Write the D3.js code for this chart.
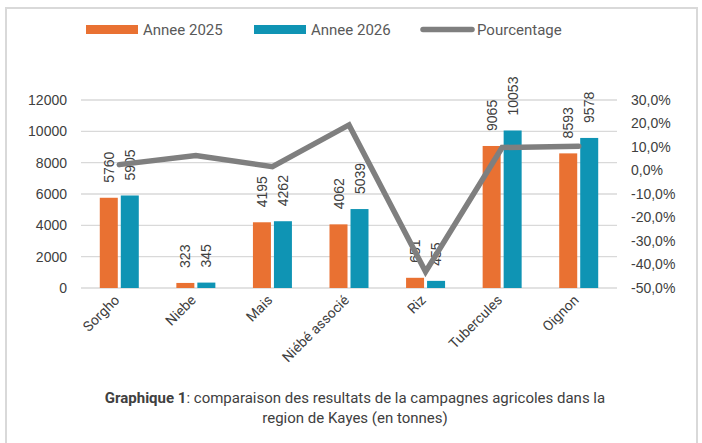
<!DOCTYPE html>
<html>
<head>
<meta charset="utf-8">
<script src="https://cdn.jsdelivr.net/npm/d3@7"></script>
<style>
  body { margin: 0; background: #fff; }
</style>
</head>
<body>
<div id="container"></div>
<script>
let w = 702;
let h = 443;

// data
let categories = ["Sorgho", "Niebe", "Mais", "Niébé associé", "Riz", "Tubercules", "Oignon"];
let annee2025 = [5760, 323, 4195, 4062, 651, 9065, 8593];
let annee2026 = [5905, 345, 4262, 5039, 455, 10053, 9578];
let pourcentage = [2.5, 6.4, 1.6, 19.4, -43.1, 9.8, 10.3];
let leftTicks = [0, 2000, 4000, 6000, 8000, 10000, 12000];
let rightTicks = [-50, -40, -30, -20, -10, 0, 10, 20, 30];

let orange = "#e97132";
let blue = "#0f94b4";
let grey = "#7f7f7f";
let textCol = "#404040";

let viz = d3.select("#container")
  .append("svg")
    .attr("width", w)
    .attr("height", h)
    .style("background-color", "white");

// outer border of the chart box
viz.append("rect")
  .attr("x", 6).attr("y", 8)
  .attr("width", 691).attr("height", 445)
  .attr("fill", "none")
  .attr("stroke", "#d9d9d9")
  .attr("stroke-width", 2);

let plotLeft = 81, plotRight = 617, plotTop = 100, plotBottom = 288;

let xScale = d3.scaleBand().domain(categories).range([plotLeft, plotRight]);
let yScale = d3.scaleLinear().domain([0, 12000]).range([plotBottom, plotTop]);
let pScale = d3.scaleLinear().domain([-50, 30]).range([plotBottom, plotTop]);

// gridlines
viz.append("g").selectAll("line").data(leftTicks).enter()
  .append("line")
    .attr("x1", plotLeft).attr("x2", plotRight)
    .attr("y1", d => yScale(d)).attr("y2", d => yScale(d))
    .attr("stroke", "#d9d9d9")
    .attr("stroke-width", 1.3);

// left axis
let yAxis = d3.axisLeft(yScale).tickValues(leftTicks).tickSize(0).tickPadding(14)
  .tickFormat(d3.format("d"));
let yAxisGroup = viz.append("g")
  .attr("transform", "translate(" + plotLeft + ",0)")
  .call(yAxis);
yAxisGroup.select(".domain").remove();
yAxisGroup.selectAll("text")
  .attr("fill", textCol)
  .style("font-family", "'Liberation Sans', Arial, sans-serif")
  .style("font-size", "14px");

// right axis
let fmt = d3.format(".1f");
let pAxis = d3.axisRight(pScale).tickValues(rightTicks).tickSize(0).tickPadding(14)
  .tickFormat(d => fmt(d).replace(".", ",").replace("−", "-") + "%");
let pAxisGroup = viz.append("g")
  .attr("transform", "translate(" + plotRight + ",0)")
  .call(pAxis);
pAxisGroup.select(".domain").remove();
pAxisGroup.selectAll("text")
  .attr("fill", textCol)
  .style("font-family", "'Liberation Sans', Arial, sans-serif")
  .style("font-size", "14px");

// bars
let barW = 18, gap = 3;
let groups = viz.selectAll(".datagroup").data(categories).enter()
  .append("g")
    .attr("class", "datagroup")
    .attr("transform", d => "translate(" + (xScale(d) + xScale.bandwidth() / 2) + ",0)");

groups.append("rect")
  .attr("x", -barW - gap / 2)
  .attr("y", (d, i) => yScale(annee2025[i]))
  .attr("width", barW)
  .attr("height", (d, i) => plotBottom - yScale(annee2025[i]))
  .attr("fill", orange);

groups.append("rect")
  .attr("x", gap / 2)
  .attr("y", (d, i) => yScale(annee2026[i]))
  .attr("width", barW)
  .attr("height", (d, i) => plotBottom - yScale(annee2026[i]))
  .attr("fill", blue);

// line
let line = d3.line()
  .x((d, i) => xScale(categories[i]) + xScale.bandwidth() / 2)
  .y(d => pScale(d));
viz.append("path")
  .datum(pourcentage)
  .attr("d", line)
  .attr("fill", "none")
  .attr("stroke", grey)
  .attr("stroke-width", 5.5)
  .attr("stroke-linejoin", "miter")
  .attr("stroke-linecap", "round");

// data labels, rotated
function addLabels(vals, dx) {
  groups.append("text")
    .text((d, i) => vals[i])
    .attr("transform", (d, i) => "translate(" + (dx + 5) + "," + (yScale(vals[i]) - 15) + ") rotate(-90)")
    .attr("fill", textCol)
    .style("font-family", "'Liberation Sans', Arial, sans-serif")
    .style("font-size", "14px");
}
addLabels(annee2025, -barW / 2 - gap / 2);
addLabels(annee2026, barW / 2 + gap / 2);

// category labels
viz.append("g").selectAll("text").data(categories).enter()
  .append("text")
    .text(d => d)
    .attr("text-anchor", "end")
    .attr("transform", d => "translate(" + (xScale(d) + xScale.bandwidth() / 2 + 1) + ",301) rotate(-45)")
    .attr("fill", textCol)
    .style("font-family", "Roboto, sans-serif")
    .style("font-size", "14px");

// legend
let legend = viz.append("g").attr("transform", "translate(0,29.5)");
let legendItems = [
  {name: "Annee 2025", x: 86, col: orange, type: "rect"},
  {name: "Annee 2026", x: 254, col: blue, type: "rect"},
  {name: "Pourcentage", x: 420, col: grey, type: "line"}
];
legendItems.forEach(function(it) {
  if (it.type == "rect") {
    legend.append("rect")
      .attr("x", it.x).attr("y", -4.5)
      .attr("width", 52).attr("height", 9)
      .attr("fill", it.col);
  } else {
    legend.append("line")
      .attr("x1", it.x + 3).attr("x2", it.x + 52)
      .attr("y1", 0).attr("y2", 0)
      .attr("stroke", it.col)
      .attr("stroke-width", 5.5)
      .attr("stroke-linecap", "round");
  }
  legend.append("text")
    .text(it.name)
    .attr("x", it.x + 57)
    .attr("y", 5.5)
    .attr("fill", "#595959")
    .style("font-family", "Roboto, sans-serif")
    .style("font-size", "15px");
});

// caption
let caption = viz.append("text")
  .attr("text-anchor", "middle")
  .attr("fill", textCol)
  .style("font-family", "Roboto, sans-serif")
  .style("font-size", "15px");
let line1 = caption.append("tspan").attr("x", 355).attr("y", 403);
line1.append("tspan").text("Graphique 1").style("font-weight", "bold");
line1.append("tspan").text(": comparaison des resultats de la campagnes agricoles dans la");
caption.append("tspan").attr("x", 355).attr("y", 423).text("region de Kayes (en tonnes)");
</script>
</body>
</html>
